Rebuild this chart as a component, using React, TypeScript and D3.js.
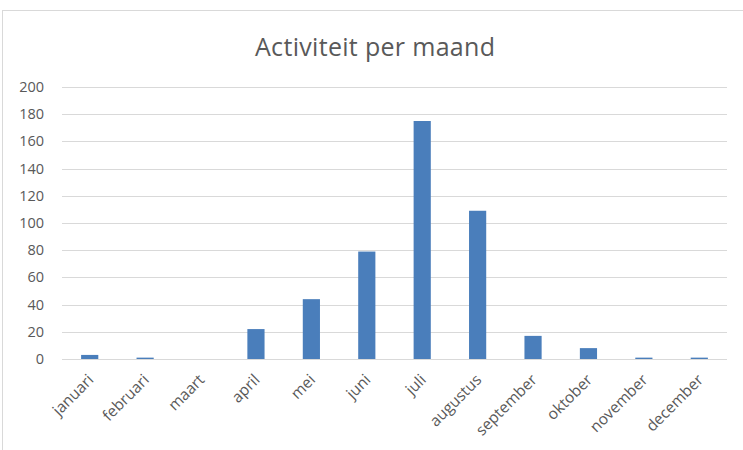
import { useEffect, useRef } from 'react';
import * as d3 from 'd3';

const months = [
  'januari', 'februari', 'maart', 'april', 'mei', 'juni',
  'juli', 'augustus', 'september', 'oktober', 'november', 'december',
];
const activity = [3, 1, 0, 22, 44, 79, 175, 109, 17, 8, 1, 1];
const yTicks = [0, 20, 40, 60, 80, 100, 120, 140, 160, 180, 200];
const chartTitle = 'Activiteit per maand';

export default function App() {
  const rootRef = useRef<SVGSVGElement | null>(null);

  useEffect(() => {
    const svgEl = rootRef.current;
    if (!svgEl) return undefined;
    document.body.style.margin = '0';

    const width = 743;
    const height = 450;
    const margin = { top: 87, right: 16, bottom: 91, left: 62 };
    const font = '"Open Sans", "Noto Sans", sans-serif';
    const textColor = '#595959';

    const svg = d3.select(svgEl);
    svg.selectAll('*').remove();

    // chart frame (right and bottom edges fall outside the picture)
    svg.append('rect')
      .attr('x', 2.5).attr('y', 10.5)
      .attr('width', 800).attr('height', 500)
      .attr('fill', '#fff')
      .attr('stroke', '#d9d9d9');

    svg.append('text')
      .attr('x', 375).attr('y', 56)
      .attr('text-anchor', 'middle')
      .attr('font-family', font)
      .attr('font-size', '25px')
      .attr('textLength', 240)
      .attr('fill', textColor)
      .text(chartTitle);

    const chartWidth = width - margin.left - margin.right;
    const chartHeight = height - margin.top - margin.bottom;
    const g = svg.append('g').attr('transform', `translate(${margin.left},${margin.top})`);

    const x = d3.scaleBand().domain(months).range([0, chartWidth]).paddingInner(0.69).paddingOuter(0.345);
    const y = d3.scaleLinear().domain([0, 200]).range([chartHeight, 0]);

    g.append('g')
      .selectAll('line')
      .data(yTicks)
      .join('line')
      .attr('x1', 0).attr('x2', chartWidth)
      .attr('y1', d => Math.round(y(d)) + 0.5)
      .attr('y2', d => Math.round(y(d)) + 0.5)
      .attr('stroke', '#d9d9d9')
      .attr('stroke-width', 1);

    g.append('g')
      .selectAll('rect')
      .data(activity)
      .join('rect')
      .attr('x', (_, i) => x(months[i]) as number)
      .attr('width', x.bandwidth())
      .attr('y', d => y(d))
      .attr('height', d => chartHeight - y(d))
      .attr('fill', '#4a7ebb');

    g.append('g')
      .selectAll('text')
      .data(yTicks)
      .join('text')
      .attr('x', -18)
      .attr('y', d => y(d))
      .attr('dy', '0.35em')
      .attr('text-anchor', 'end')
      .attr('font-family', font)
      .attr('font-size', '14.5px')
      .attr('fill', textColor)
      .text(d => d);

    g.append('g')
      .selectAll('text')
      .data(months)
      .join('text')
      .attr('transform', d => {
        const cx = (x(d) as number) + x.bandwidth() / 2 + 1;
        return `translate(${cx},${chartHeight + 18}) rotate(-45)`;
      })
      .attr('text-anchor', 'end')
      .attr('dy', '0.35em')
      .attr('font-family', font)
      .attr('font-size', '15.5px')
      .attr('fill', textColor)
      .text(d => d);

    return () => {
      svg.selectAll('*').remove();
    };
  }, []);

  return <svg ref={rootRef} width={743} height={450} style={{ display: 'block' }} />;
}
